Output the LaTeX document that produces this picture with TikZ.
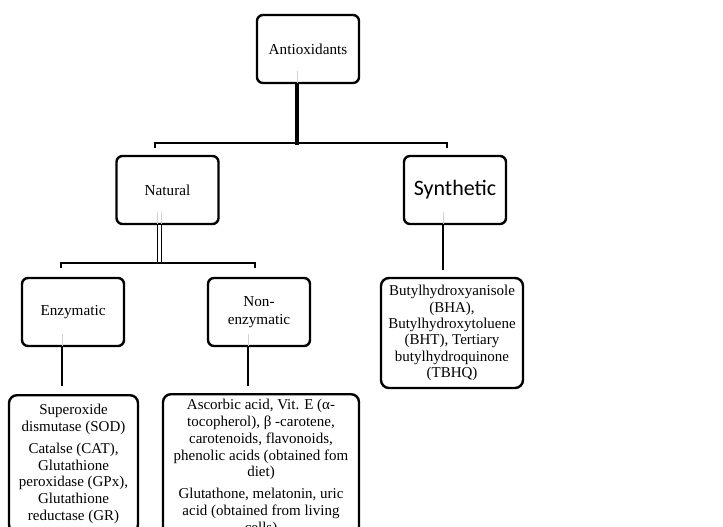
\documentclass[tikz,border=0pt]{standalone}
\usepackage{fontspec}
\setmainfont{Liberation Serif}
\newfontfamily\synfont{Carlito}
\begin{document}
\begin{tikzpicture}[x=1pt,y=-1pt,line cap=rect,
  box/.style={draw, line width=2.4pt, rounded corners=6pt, align=center,
    minimum width=102pt, minimum height=68pt, inner sep=3pt,
    font=\fontsize{15.2}{18}\selectfont},
  listbox/.style={draw, line width=2.4pt, rounded corners=8pt, align=center,
    inner xsep=3pt, inner ysep=8pt, font=\fontsize{15}{16.8}\selectfont},
  stem/.style={line width=2.6pt},
  bar/.style={line width=2.2pt},
  ghost/.style={gray!35, line width=1pt}]
\useasboundingbox (0,0) rectangle (723,527);
\clip (0,0) rectangle (723,527);
% top level
\node[box] (anti) at (308,49) {Antioxidants};
\node[box] (natural) at (167.5,190) {Natural};
\node[box, font=\synfont\fontsize{22}{24}\selectfont] (synth) at (455,190) {Synthetic};
% natural branches
\node[box] (enz) at (73,312) {Enzymatic};
\node[box] (nonenz) at (259,312) {Non-\\enzymatic};
% lists
\node[listbox, anchor=north, inner ysep=9pt, minimum width=129pt] (enzlist) at (73.5,394)
  {Superoxide\\dismutase (SOD)\\[5pt]Catalse (CAT),\\Glutathione\\peroxidase (GPx),\\Glutathione\\reductase (GR)};
\node[listbox, anchor=north, inner ysep=5pt, minimum width=196pt] (nonenzlist) at (261,393)
  {Ascorbic acid, Vit. E (α-\\tocopherol), β -carotene,\\carotenoids, flavonoids,\\phenolic acids (obtained fom\\diet)\\[5pt]Glutathone, melatonin, uric\\acid (obtained from living\\cells)};
\node[listbox, inner ysep=4pt, minimum width=142pt, minimum height=110pt, font=\fontsize{15}{16.4}\selectfont] (synlist) at (452,333)
  {Butylhydroxyanisole\\(BHA),\\Butylhydroxytoluene\\(BHT), Tertiary\\butylhydroquinone\\(TBHQ)};
% bar ends
\coordinate (topbar) at (297,143);
\coordinate (topL) at (155,143);
\coordinate (topR) at (447,143);
\coordinate (natbar) at (159.5,263);
\coordinate (natL) at (61,263);
\coordinate (natR) at (255,263);
% connectors
\draw[stem, line width=3.2pt] ([xshift=-11pt]anti.south) -- (topbar);
\draw[bar] ([yshift=-4pt]topL) -- (topL) -- (topR) -- ([yshift=-4pt]topR);
\draw[line width=1.4pt, double, double distance=2.2pt, line cap=butt] ([xshift=-8pt]natural.south) -- (natbar);
\draw[bar] ([yshift=-4pt]natL) -- (natL) -- (natR) -- ([yshift=-4pt]natR);
\draw[stem] ([xshift=-12pt]synth.south) -- ++(0,43);
\draw[stem] ([xshift=-11pt]enz.south) -- ++(0,37);
\draw[stem] ([xshift=-11pt]nonenz.south) -- ++(0,37);
% faint marks inside the boxes
\draw[ghost] ([xshift=-11pt,yshift=2pt]anti.south) -- ++(0,-11);
\draw[ghost] ([xshift=-10pt,yshift=2pt]natural.south) -- ++(0,-11);
\draw[ghost] ([xshift=-6pt,yshift=2pt]natural.south) -- ++(0,-11);
\draw[ghost] ([xshift=-12pt,yshift=2pt]synth.south) -- ++(0,-11);
\draw[ghost] ([xshift=-11pt,yshift=2pt]enz.south) -- ++(0,-11);
\draw[ghost] ([xshift=-11pt,yshift=2pt]nonenz.south) -- ++(0,-11);
\end{tikzpicture}
\end{document}
